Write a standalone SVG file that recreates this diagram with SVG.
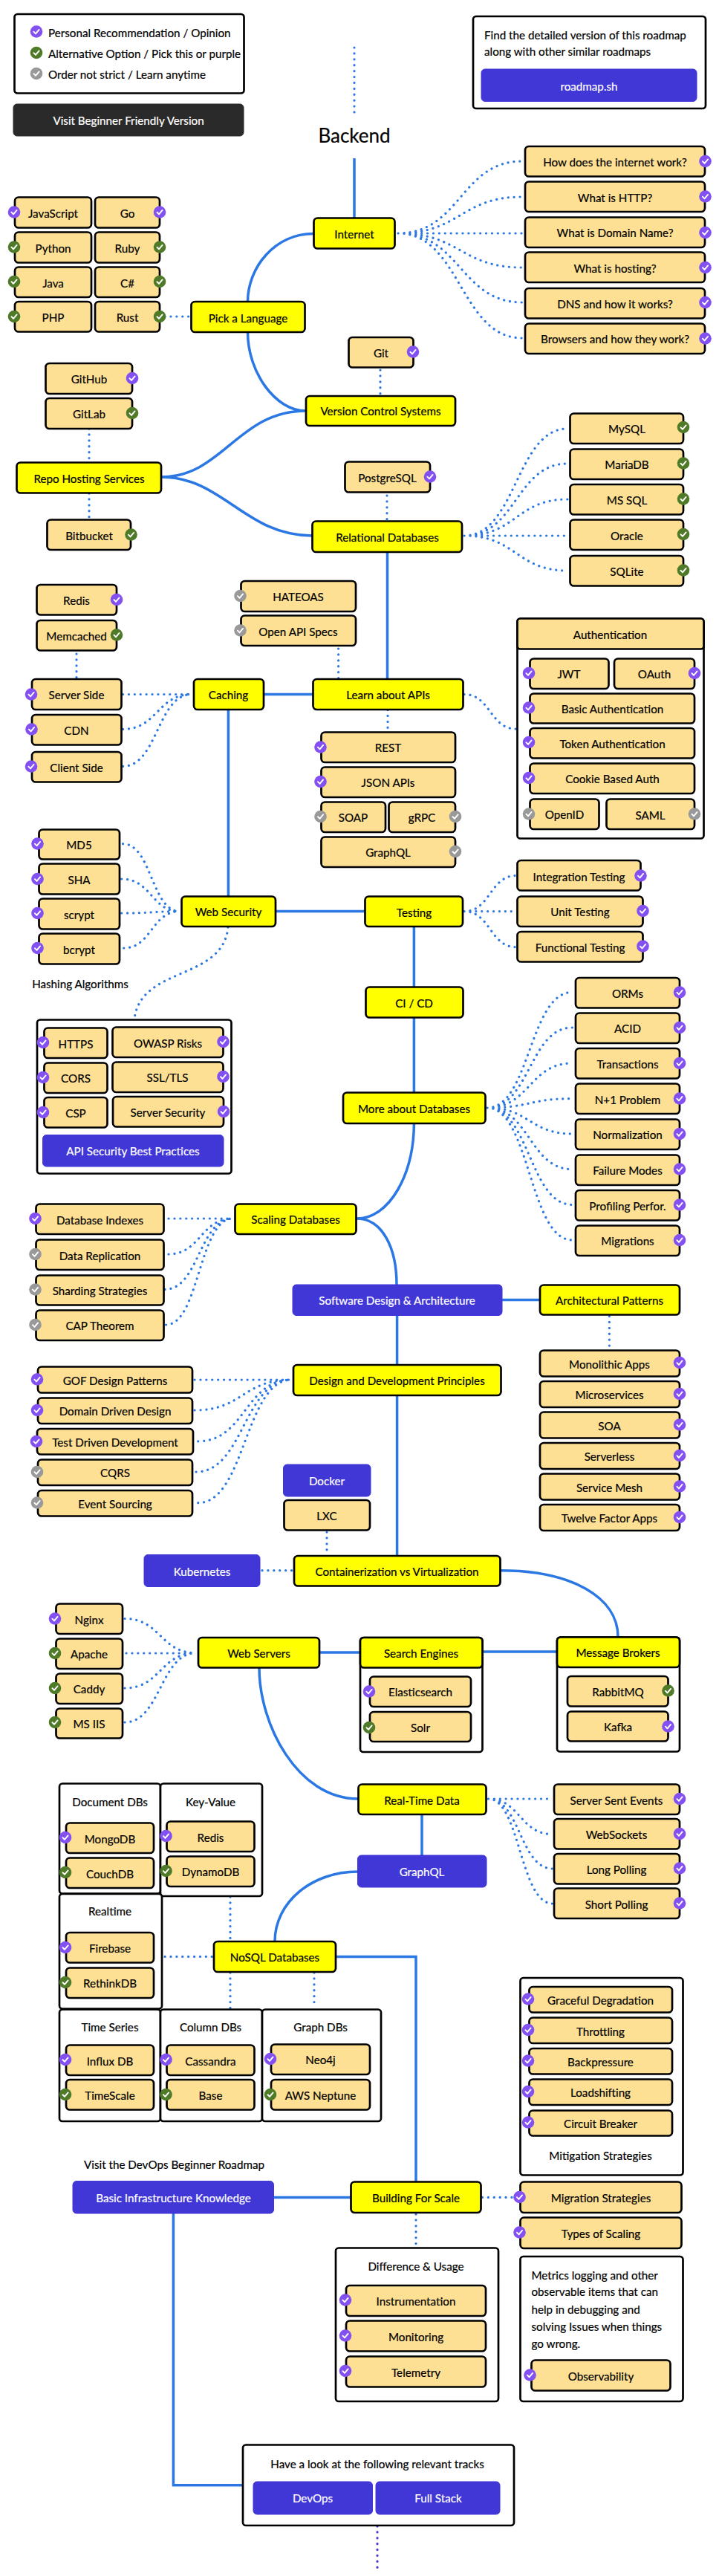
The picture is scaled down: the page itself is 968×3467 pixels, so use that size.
<svg xmlns="http://www.w3.org/2000/svg" width="968" height="3467" viewBox="0 0 968 3467">
<style>
text{font-family:"Lato","Liberation Sans",sans-serif;font-size:15.200px;fill:#000;stroke:#000;stroke-width:.2;text-anchor:middle;dominant-baseline:central}
text.w{fill:#fff;stroke:#fff}
text.l{text-anchor:start}
text.h{font-size:26px}
rect{stroke:#000;stroke-width:2.7}
.n{fill:#fee094}
.y{fill:#ffff00}
.f{fill:#fff}
.b{fill:#4136d6;stroke:#4136d6;stroke-width:1}
.k{fill:#2a2a2a;stroke:#2a2a2a;stroke-width:1}
.s{fill:none;stroke:#2b78e4;stroke-width:3.5}
.d{fill:none;stroke:#2b78e4;stroke-width:3.2;stroke-linecap:round;stroke-dasharray:0.1 7.8}
.e{stroke:#4136d6}
.c{fill:none;stroke:#fff;stroke-width:1.9;stroke-linecap:round;stroke-linejoin:round}
</style>
<defs>
<g id="cp"><circle r="8.3" fill="#8350f2"/><path class="c" d="M-3.6 .2L-1 2.9L3.6-2.6"/></g>
<g id="cg"><circle r="8.3" fill="#4f7a28"/><path class="c" d="M-3.6 .2L-1 2.9L3.6-2.6"/></g>
<g id="cy"><circle r="8.3" fill="#999"/><path class="c" d="M-3.6 .2L-1 2.9L3.6-2.6"/></g>
</defs>
<g id="connectors">
<path class="s" d="M477 213V293M422 314.500C370 314.500 333.500 360 333.500 406M333.500 447C333.500 500 370 553 412 553M217 642C300 642 320 553 412 553M217 642C300 642 330 721 420 721M521.500 743V914M355 934.500H421M307.400 955V1206M371 1226.600H491M557.400 1247V1328M557.400 1370V1470M557.400 1512C557 1580 525 1640 480 1640C515 1640 534 1680 534 1729M676 1749.500H727M534.600 1770V1837M534.600 1878V2094M674 2113.700C770 2113.700 832 2150 832 2203M430 2224H485M649 2223H750M349 2245C349 2320 400 2421 482 2421M568 2442V2497M481.500 2519C420 2519 370 2560 370 2613M452 2633.400H560V2936M368 2957.400H472M233.400 2979V3344.800H326.600"/>
<path class="d" d="M477 64V152M536 314C620 314 620 217 703 217M536 314C620 314 620 265 703 265M536 314H703M536 314C620 314 620 360 703 360M536 314C620 314 620 407 703 407M536 314C620 314 620 455 703 455M222 426H256M512 498V532M120 577V621M120 664V697M521 667V700M625 721C695 721 695 577 764 577M625 721C695 721 695 624 764 624M625 721C695 721 695 672 764 672M625 721H764M625 721C695 721 695 768 764 768M103 880V913M165.500 934.500H258M165.500 981.400C212 981.400 212 934.500 258 934.500M165.500 1031.400C212 1031.400 212 934.500 258 934.500M455.600 873V913M522 955.500V983M625 934.500C660 934.500 660 981 694.500 981M165.500 1135.700C204 1135.700 204 1226.600 242 1226.600M163.600 1183C204 1183 204 1226.600 242 1226.600M163.600 1229C204 1229 204 1226.600 242 1226.600M166.700 1276C204 1276 204 1226.600 242 1226.600M307 1248C300 1320 190 1300 181 1371M625 1226.600C660 1226.600 660 1178.500 694.500 1178.500M625 1226.600H694.500M625 1226.600C660 1226.600 660 1274.700 694.500 1274.700M656 1491C713 1491 713 1335.400 770.400 1335.400M656 1491C713 1491 713 1383 770.400 1383M656 1491C713 1491 713 1431 770.400 1431M656 1491C713 1491 713 1478.600 770.400 1478.600M656 1491C713 1491 713 1526 770.400 1526M656 1491C713 1491 713 1573.700 770.400 1573.700M656 1491C713 1491 713 1621.400 770.400 1621.400M656 1491C713 1491 713 1669 770.400 1669M227 1640H313.600M227 1688C270 1688 270 1640 313.600 1640M222 1735.400C268 1735.400 268 1640 313.600 1640M223.500 1783C268 1783 268 1640 313.600 1640M820.400 1771.500V1812M262 1857H392.600M262 1898C327 1898 327 1857 392.600 1857M266.700 1939.800C330 1939.800 330 1857 392.600 1857M264 1981C328 1981 328 1857 392.600 1857M266.700 2022.700C330 2022.700 330 1857 392.600 1857M440 2062V2092M353 2113.700H394M168 2178.500C216 2178.500 216 2224.700 264 2224.700M170 2225H264M168 2272C216 2272 216 2224.700 264 2224.700M168 2318C216 2318 216 2224.700 264 2224.700M657.400 2421H744M657.400 2421C700 2421 700 2468.700 744 2468.700M657.400 2421C700 2421 700 2515 744 2515M657.400 2421C700 2421 700 2562 744 2562M222 2633.400H287M310 2553V2612M310 2655V2703M423 2655V2701M649.400 2957.400H691M560 2980V3021"/>
<path class="d e" d="M508 3400V3457"/>
</g>
<g id="legend"><rect class="f" x="19.500" y="19" width="309" height="106.500" rx="4"/><use href="#cp" x="49" y="42.500"/><text class="l" x="65" y="44">Personal Recommendation / Opinion</text><use href="#cg" x="49" y="71"/><text class="l" x="65" y="72">Alternative Option / Pick this or purple</text><use href="#cy" x="49" y="99"/><text class="l" x="65" y="100">Order not strict / Learn anytime</text></g>
<g id="beginner"><rect class="k" x="18" y="140" width="310" height="43" rx="5"/><text class="w" x="173" y="162">Visit Beginner Friendly Version</text></g>
<g id="find"><rect class="f" x="637" y="22" width="313" height="124" rx="4"/><text class="l" x="652" y="47">Find the detailed version of this roadmap</text><text class="l" x="652" y="69">along with other similar roadmaps</text><rect class="b" x="648" y="93" width="290" height="43.500" rx="5"/><text class="w" x="793" y="116">roadmap.sh</text></g>
<g id="title"><text class="h" x="477" y="182">Backend</text></g>
<g id="internet"><rect class="y" x="422.500" y="293.500" width="109" height="41" rx="5"/><text x="477" y="315">Internet</text></g>
<g id="inet1"><rect class="n" x="707" y="197" width="242" height="40.500" rx="5"/><text x="828" y="218">How does the internet work?</text><use href="#cp" x="949.500" y="217"/></g>
<g id="inet2"><rect class="n" x="707" y="244.500" width="242" height="40.500" rx="5"/><text x="828" y="265.500">What is HTTP?</text><use href="#cp" x="949.500" y="264.500"/></g>
<g id="inet3"><rect class="n" x="707" y="292.500" width="242" height="40.500" rx="5"/><text x="828" y="313">What is Domain Name?</text><use href="#cp" x="949.500" y="313"/></g>
<g id="inet4"><rect class="n" x="707" y="339.500" width="242" height="40.500" rx="5"/><text x="828" y="361">What is hosting?</text><use href="#cp" x="949.500" y="360"/></g>
<g id="inet5"><rect class="n" x="707" y="388" width="242" height="40.500" rx="5"/><text x="828" y="408.500">DNS and how it works?</text><use href="#cp" x="949.500" y="407"/></g>
<g id="inet6"><rect class="n" x="707" y="435.500" width="242" height="40.500" rx="5"/><text x="828" y="456">Browsers and how they work?</text><use href="#cp" x="949.500" y="455.500"/></g>
<g id="lang-js"><rect class="n" x="20" y="265.500" width="103" height="41" rx="5"/><text x="71.500" y="287">JavaScript</text><use href="#cp" x="19" y="285.500"/></g>
<g id="lang-go"><rect class="n" x="128" y="265.500" width="87" height="41" rx="5"/><text x="171.500" y="287">Go</text><use href="#cp" x="215" y="285.500"/></g>
<g id="lang-py"><rect class="n" x="20" y="312.500" width="103" height="41" rx="5"/><text x="71.500" y="334">Python</text><use href="#cg" x="19" y="332.500"/></g>
<g id="lang-rb"><rect class="n" x="128" y="312.500" width="87" height="41" rx="5"/><text x="171.500" y="334">Ruby</text><use href="#cg" x="215" y="332.500"/></g>
<g id="lang-java"><rect class="n" x="20" y="359.500" width="103" height="40.500" rx="5"/><text x="71.500" y="381">Java</text><use href="#cg" x="19" y="379"/></g>
<g id="lang-cs"><rect class="n" x="128" y="359.500" width="87" height="40.500" rx="5"/><text x="171.500" y="381">C#</text><use href="#cg" x="215" y="379"/></g>
<g id="lang-php"><rect class="n" x="20" y="406" width="103" height="40.500" rx="5"/><text x="71.500" y="427">PHP</text><use href="#cg" x="19" y="426"/></g>
<g id="lang-rust"><rect class="n" x="128" y="406" width="87" height="40.500" rx="5"/><text x="171.500" y="427">Rust</text><use href="#cg" x="215" y="426"/></g>
<g id="pick"><rect class="y" x="257.500" y="406" width="153" height="41" rx="5"/><text x="334" y="427.500">Pick a Language</text></g>
<g id="git"><rect class="n" x="469.500" y="454" width="87" height="40.500" rx="5"/><text x="513" y="474.500">Git</text><use href="#cp" x="556" y="473.500"/></g>
<g id="vcs"><rect class="y" x="412" y="533" width="201" height="40" rx="5"/><text x="512.500" y="553">Version Control Systems</text></g>
<g id="github"><rect class="n" x="61.500" y="489" width="116.500" height="41" rx="5"/><text x="120" y="510">GitHub</text><use href="#cp" x="178" y="509"/></g>
<g id="gitlab"><rect class="n" x="61.500" y="536" width="116.500" height="41" rx="5"/><text x="120" y="557">GitLab</text><use href="#cg" x="178" y="556"/></g>
<g id="repo"><rect class="y" x="22.500" y="622.500" width="194.500" height="41" rx="5"/><text x="120" y="644">Repo Hosting Services</text></g>
<g id="bitbucket"><rect class="n" x="63.500" y="699.500" width="112.500" height="40.500" rx="5"/><text x="120" y="720.500">Bitbucket</text><use href="#cg" x="176.500" y="719.500"/></g>
<g id="postgres"><rect class="n" x="464.500" y="621.500" width="114.500" height="41" rx="5"/><text x="521.500" y="642.500">PostgreSQL</text><use href="#cp" x="579" y="641.500"/></g>
<g id="rdb"><rect class="y" x="420.500" y="701.500" width="201.500" height="41.500" rx="5"/><text x="521.500" y="723">Relational Databases</text></g>
<g id="mysql"><rect class="n" x="767.500" y="556.500" width="152.500" height="40.500" rx="5"/><text x="844" y="577">MySQL</text><use href="#cg" x="920" y="575"/></g>
<g id="mariadb"><rect class="n" x="767.500" y="604.500" width="152.500" height="40.500" rx="5"/><text x="844" y="625">MariaDB</text><use href="#cg" x="920" y="623.500"/></g>
<g id="mssql"><rect class="n" x="767.500" y="652" width="152.500" height="40.500" rx="5"/><text x="844" y="673">MS SQL</text><use href="#cg" x="920" y="671.500"/></g>
<g id="oracle"><rect class="n" x="767.500" y="699.500" width="152.500" height="40.500" rx="5"/><text x="844" y="721">Oracle</text><use href="#cg" x="920" y="719"/></g>
<g id="sqlite"><rect class="n" x="767.500" y="748" width="152.500" height="40.500" rx="5"/><text x="844" y="769">SQLite</text><use href="#cg" x="920" y="767.500"/></g>
<g id="redis"><rect class="n" x="49.500" y="787" width="107.500" height="40.500" rx="5"/><text x="103" y="808">Redis</text><use href="#cp" x="157" y="807"/></g>
<g id="memcached"><rect class="n" x="49.500" y="835" width="107.500" height="40.500" rx="5"/><text x="103" y="856">Memcached</text><use href="#cg" x="157" y="854.500"/></g>
<g id="server-side"><rect class="n" x="43" y="914" width="120.500" height="41" rx="5"/><text x="103" y="935">Server Side</text><use href="#cp" x="42" y="934.500"/></g>
<g id="cdn"><rect class="n" x="43" y="962" width="120.500" height="40.500" rx="5"/><text x="103" y="983">CDN</text><use href="#cp" x="42.500" y="981.500"/></g>
<g id="client-side"><rect class="n" x="43" y="1012" width="120.500" height="40.500" rx="5"/><text x="103" y="1033">Client Side</text><use href="#cp" x="42" y="1031.500"/></g>
<g id="caching"><rect class="y" x="261" y="914" width="94" height="41" rx="5"/><text x="307.500" y="935">Caching</text></g>
<g id="apis"><rect class="y" x="421.500" y="914" width="202" height="41" rx="5"/><text x="522.500" y="935">Learn about APIs</text></g>
<g id="hateoas"><rect class="n" x="324.500" y="782" width="154.500" height="41" rx="5"/><text x="401.500" y="803">HATEOAS</text><use href="#cy" x="323.500" y="802"/></g>
<g id="openapi"><rect class="n" x="324.500" y="828.500" width="154.500" height="40.500" rx="5"/><text x="401.500" y="850">Open API Specs</text><use href="#cy" x="323.500" y="848.500"/></g>
<g id="rest"><rect class="n" x="432.500" y="985.500" width="180.500" height="40.500" rx="5"/><text x="522.500" y="1006">REST</text><use href="#cp" x="431.500" y="1005.500"/></g>
<g id="json"><rect class="n" x="432.500" y="1032.500" width="180.500" height="40.500" rx="5"/><text x="522.500" y="1053">JSON APIs</text><use href="#cp" x="431.500" y="1052"/></g>
<g id="soap"><rect class="n" x="432.500" y="1079.500" width="86.500" height="40.500" rx="5"/><text x="475.500" y="1100">SOAP</text><use href="#cy" x="431.500" y="1099"/></g>
<g id="grpc"><rect class="n" x="523.500" y="1079.500" width="89.500" height="40.500" rx="5"/><text x="568" y="1100">gRPC</text><use href="#cy" x="613" y="1099"/></g>
<g id="graphql-api"><rect class="n" x="432.500" y="1126.500" width="180.500" height="40.500" rx="5"/><text x="522.500" y="1147">GraphQL</text><use href="#cy" x="613" y="1146"/></g>
<g id="auth"><rect class="f" x="696.500" y="832.500" width="251" height="296" rx="4"/><rect class="n" x="696.500" y="832.500" width="251" height="41" rx="4"/><text x="821.500" y="854">Authentication</text>
<rect class="n" x="713.500" y="886.500" width="106" height="40.500" rx="5"/><text x="766" y="907">JWT</text><use href="#cp" x="712" y="906"/>
<rect class="n" x="827" y="886.500" width="108" height="40.500" rx="5"/><text x="881" y="907">OAuth</text><use href="#cp" x="935" y="906"/>
<rect class="n" x="713.500" y="933.500" width="221.500" height="40" rx="5"/><text x="824.500" y="954">Basic Authentication</text><use href="#cp" x="712" y="952.500"/>
<rect class="n" x="713.500" y="980" width="221.500" height="40.500" rx="5"/><text x="824.500" y="1001">Token Authentication</text><use href="#cp" x="712" y="999"/>
<rect class="n" x="713.500" y="1027.500" width="221.500" height="40.500" rx="5"/><text x="824.500" y="1048">Cookie Based Auth</text><use href="#cp" x="712" y="1047"/>
<rect class="n" x="713.500" y="1075.500" width="93" height="40.500" rx="5"/><text x="760" y="1096">OpenID</text><use href="#cy" x="712" y="1095.500"/>
<rect class="n" x="816.500" y="1075.500" width="118.500" height="40.500" rx="5"/><text x="875.500" y="1097">SAML</text><use href="#cy" x="935" y="1095.500"/></g>
<g id="md5"><rect class="n" x="52.500" y="1116.500" width="108.500" height="40" rx="5"/><text x="106.500" y="1137">MD5</text><use href="#cp" x="50.500" y="1135.500"/></g>
<g id="sha"><rect class="n" x="52.500" y="1162.500" width="108.500" height="41" rx="5"/><text x="106.500" y="1184">SHA</text><use href="#cp" x="50.500" y="1183"/></g>
<g id="scrypt"><rect class="n" x="52.500" y="1209.500" width="108.500" height="41" rx="5"/><text x="106.500" y="1231">scrypt</text><use href="#cp" x="50.500" y="1229"/></g>
<g id="bcrypt"><rect class="n" x="52.500" y="1256.500" width="108.500" height="41" rx="5"/><text x="106.500" y="1278">bcrypt</text><use href="#cp" x="50.500" y="1276"/></g>
<g id="hashing"><text x="108" y="1324">Hashing Algorithms</text></g>
<g id="websec"><rect class="y" x="244.500" y="1206.500" width="126.500" height="40.500" rx="5"/><text x="307.500" y="1227">Web Security</text></g>
<g id="testing"><rect class="y" x="491.500" y="1206.500" width="131.500" height="40.500" rx="5"/><text x="557.500" y="1227.500">Testing</text></g>
<g id="t-int"><rect class="n" x="696.500" y="1158" width="166" height="40.500" rx="5"/><text x="779.500" y="1180">Integration Testing</text><use href="#cp" x="862.500" y="1178.500"/></g>
<g id="t-unit"><rect class="n" x="696.500" y="1206.500" width="169" height="40.500" rx="5"/><text x="781" y="1227">Unit Testing</text><use href="#cp" x="865.500" y="1226"/></g>
<g id="t-func"><rect class="n" x="696.500" y="1254" width="169" height="40.500" rx="5"/><text x="781" y="1275">Functional Testing</text><use href="#cp" x="865.500" y="1273.500"/></g>
<g id="cicd"><rect class="y" x="492.500" y="1328.500" width="131" height="41" rx="5"/><text x="557.500" y="1350">CI / CD</text></g>
<g id="moredb"><rect class="y" x="462" y="1470.500" width="191.500" height="41.500" rx="5"/><text x="557.500" y="1492">More about Databases</text></g>
<g id="orms"><rect class="n" x="775" y="1316" width="140" height="40.500" rx="5"/><text x="845" y="1337">ORMs</text><use href="#cp" x="915" y="1335.500"/></g>
<g id="acid"><rect class="n" x="775" y="1363.500" width="140" height="40.500" rx="5"/><text x="845" y="1384">ACID</text><use href="#cp" x="915" y="1383"/></g>
<g id="transactions"><rect class="n" x="775" y="1411" width="140" height="40.500" rx="5"/><text x="845" y="1432">Transactions</text><use href="#cp" x="915" y="1431"/></g>
<g id="nplus"><rect class="n" x="775" y="1458.500" width="140" height="40.500" rx="5"/><text x="845" y="1480">N+1 Problem</text><use href="#cp" x="915" y="1478.500"/></g>
<g id="normal"><rect class="n" x="775" y="1506.500" width="140" height="40.500" rx="5"/><text x="845" y="1527">Normalization</text><use href="#cp" x="915" y="1526"/></g>
<g id="failure"><rect class="n" x="775" y="1554.500" width="140" height="40.500" rx="5"/><text x="845" y="1575">Failure Modes</text><use href="#cp" x="915" y="1573.500"/></g>
<g id="profiling"><rect class="n" x="775" y="1602" width="140" height="40.500" rx="5"/><text x="845" y="1623">Profiling Perfor.</text><use href="#cp" x="915" y="1621.500"/></g>
<g id="migrations"><rect class="n" x="775" y="1649.500" width="140" height="40.500" rx="5"/><text x="845" y="1670">Migrations</text><use href="#cp" x="915" y="1669"/></g>
<g id="apisec"><rect class="f" x="50" y="1372.500" width="261.500" height="207" rx="4"/>
<rect class="n" x="59.500" y="1383.500" width="85" height="40.500" rx="5"/><text x="102" y="1404.500">HTTPS</text><use href="#cp" x="58" y="1403"/>
<rect class="n" x="151.500" y="1382.500" width="149" height="40.500" rx="5"/><text x="226" y="1403.500">OWASP Risks</text><use href="#cp" x="300.500" y="1402"/>
<rect class="n" x="59.500" y="1430.500" width="85" height="40.500" rx="5"/><text x="102" y="1451">CORS</text><use href="#cp" x="58" y="1450"/>
<rect class="n" x="151.500" y="1429.500" width="149" height="40.500" rx="5"/><text x="225.500" y="1450">SSL/TLS</text><use href="#cp" x="300.500" y="1449"/>
<rect class="n" x="59.500" y="1477" width="85" height="40.500" rx="5"/><text x="102" y="1498">CSP</text><use href="#cp" x="58" y="1497"/>
<rect class="n" x="152" y="1476" width="149" height="40.500" rx="5"/><text x="226" y="1497">Server Security</text><use href="#cp" x="301" y="1496"/>
<rect class="b" x="57.500" y="1527.500" width="243.500" height="42.500" rx="5"/><text class="w" x="179" y="1549">API Security Best Practices</text></g>
<g id="scaling"><rect class="y" x="316.500" y="1620.500" width="163" height="40.500" rx="5"/><text x="398" y="1641">Scaling Databases</text></g>
<g id="db-idx"><rect class="n" x="48.500" y="1620.500" width="172" height="40.500" rx="5"/><text x="134.500" y="1641.500">Database Indexes</text><use href="#cp" x="47.500" y="1640"/></g>
<g id="db-rep"><rect class="n" x="48.500" y="1668.500" width="172" height="40.500" rx="5"/><text x="134.500" y="1689.500">Data Replication</text><use href="#cy" x="47.500" y="1688"/></g>
<g id="db-shard"><rect class="n" x="48.500" y="1716.500" width="172" height="40" rx="5"/><text x="134.500" y="1737">Sharding Strategies</text><use href="#cy" x="47.500" y="1735.500"/></g>
<g id="db-cap"><rect class="n" x="48.500" y="1763.500" width="172" height="40.500" rx="5"/><text x="134.500" y="1784">CAP Theorem</text><use href="#cy" x="47.500" y="1783"/></g>
<g id="software"><rect class="b" x="394" y="1729" width="282" height="41.500" rx="5"/><text class="w" x="534.500" y="1750">Software Design &amp; Architecture</text></g>
<g id="archp"><rect class="y" x="727" y="1729.500" width="188" height="40" rx="5"/><text x="820.500" y="1750">Architectural Patterns</text></g>
<g id="a1"><rect class="n" x="727" y="1817.500" width="188" height="35" rx="5"/><text x="820.500" y="1836">Monolithic Apps</text><use href="#cp" x="915" y="1834"/></g>
<g id="a2"><rect class="n" x="727" y="1859" width="188" height="35" rx="5"/><text x="820.500" y="1877">Microservices</text><use href="#cp" x="915" y="1876"/></g>
<g id="a3"><rect class="n" x="727" y="1900.500" width="188" height="35" rx="5"/><text x="820.500" y="1919">SOA</text><use href="#cp" x="915" y="1917.500"/></g>
<g id="a4"><rect class="n" x="727" y="1942" width="188" height="35" rx="5"/><text x="820.500" y="1960">Serverless</text><use href="#cp" x="915" y="1959"/></g>
<g id="a5"><rect class="n" x="727" y="1983.500" width="188" height="35" rx="5"/><text x="820.500" y="2002">Service Mesh</text><use href="#cp" x="915" y="2000.500"/></g>
<g id="a6"><rect class="n" x="727" y="2025" width="188" height="35" rx="5"/><text x="820.500" y="2043">Twelve Factor Apps</text><use href="#cp" x="915" y="2042"/></g>
<g id="principles"><rect class="y" x="395" y="1837" width="279.500" height="41" rx="5"/><text x="534.500" y="1858">Design and Development Principles</text></g>
<g id="gof"><rect class="n" x="51" y="1839.500" width="208" height="35" rx="5"/><text x="155" y="1858">GOF Design Patterns</text><use href="#cp" x="50" y="1856.500"/></g>
<g id="ddd"><rect class="n" x="51" y="1881.500" width="208" height="34.500" rx="5"/><text x="155" y="1899">Domain Driven Design</text><use href="#cp" x="50" y="1898"/></g>
<g id="tdd"><rect class="n" x="50" y="1923" width="210" height="34.500" rx="5"/><text x="155" y="1941">Test Driven Development</text><use href="#cp" x="49" y="1940"/></g>
<g id="cqrs"><rect class="n" x="51" y="1964.500" width="208" height="34.500" rx="5"/><text x="155" y="1982">CQRS</text><use href="#cy" x="50" y="1981"/></g>
<g id="events"><rect class="n" x="51" y="2006" width="208" height="34.500" rx="5"/><text x="155" y="2024">Event Sourcing</text><use href="#cy" x="50" y="2022.500"/></g>
<g id="docker"><rect class="b" x="381.500" y="1971" width="117.500" height="43" rx="5"/><text class="w" x="440" y="1993">Docker</text></g>
<g id="lxc"><rect class="n" x="382.500" y="2019" width="115.500" height="40.500" rx="5"/><text x="440" y="2040">LXC</text></g>
<g id="containers"><rect class="y" x="396" y="2094" width="277.500" height="40.500" rx="5"/><text x="534.500" y="2115">Containerization vs Virtualization</text></g>
<g id="k8s"><rect class="b" x="194" y="2092.500" width="156" height="43" rx="5"/><text class="w" x="272" y="2115">Kubernetes</text></g>
<g id="nginx"><rect class="n" x="75.500" y="2158.500" width="89.500" height="40.500" rx="5"/><text x="120" y="2180">Nginx</text><use href="#cp" x="74" y="2178.500"/></g>
<g id="apache"><rect class="n" x="75.500" y="2205.500" width="89.500" height="40.500" rx="5"/><text x="120" y="2226">Apache</text><use href="#cg" x="74" y="2225"/></g>
<g id="caddy"><rect class="n" x="75.500" y="2252.500" width="89.500" height="40.500" rx="5"/><text x="120" y="2273">Caddy</text><use href="#cg" x="74" y="2272"/></g>
<g id="msiis"><rect class="n" x="75.500" y="2299.500" width="89.500" height="40" rx="5"/><text x="120" y="2320">MS IIS</text><use href="#cg" x="74" y="2318"/></g>
<g id="webservers"><rect class="y" x="267" y="2204" width="163" height="40.500" rx="5"/><text x="348.500" y="2225">Web Servers</text></g>
<g id="search"><rect class="f" x="485" y="2204" width="164.500" height="154" rx="4"/><rect class="y" x="485" y="2204" width="164.500" height="40.500" rx="5"/><text x="567" y="2225">Search Engines</text>
<rect class="n" x="498" y="2256.500" width="136" height="40.500" rx="5"/><text x="566" y="2277">Elasticsearch</text><use href="#cp" x="497" y="2276.500"/>
<rect class="n" x="498" y="2304" width="136" height="40" rx="5"/><text x="566" y="2325">Solr</text><use href="#cg" x="497" y="2325"/></g>
<g id="brokers"><rect class="f" x="750" y="2203.500" width="165" height="154" rx="4"/><rect class="y" x="750" y="2203.500" width="165" height="40.500" rx="5"/><text x="832" y="2224">Message Brokers</text>
<rect class="n" x="764" y="2256" width="135.500" height="40.500" rx="5"/><text x="832" y="2277">RabbitMQ</text><use href="#cg" x="899.500" y="2275.500"/>
<rect class="n" x="764" y="2303.500" width="135.500" height="40" rx="5"/><text x="832" y="2324">Kafka</text><use href="#cp" x="899.500" y="2323.500"/></g>
<g id="realtime-data"><rect class="y" x="482.500" y="2401.500" width="172" height="40.500" rx="5"/><text x="568" y="2423">Real-Time Data</text></g>
<g id="graphql"><rect class="b" x="481.500" y="2497" width="173.500" height="43" rx="5"/><text class="w" x="568" y="2519">GraphQL</text></g>
<g id="nosql"><rect class="y" x="288" y="2613" width="164" height="41" rx="5"/><text x="370" y="2634">NoSQL Databases</text></g>
<g id="sse"><rect class="n" x="746" y="2401.500" width="169" height="40.500" rx="5"/><text x="830" y="2423">Server Sent Events</text><use href="#cp" x="915" y="2421"/></g>
<g id="ws"><rect class="n" x="746" y="2448" width="169" height="40.500" rx="5"/><text x="830" y="2469">WebSockets</text><use href="#cp" x="915" y="2468"/></g>
<g id="longp"><rect class="n" x="746" y="2495" width="169" height="40.500" rx="5"/><text x="830" y="2516">Long Polling</text><use href="#cp" x="915" y="2514.500"/></g>
<g id="shortp"><rect class="n" x="746" y="2541.500" width="169" height="40.500" rx="5"/><text x="830" y="2563">Short Polling</text><use href="#cp" x="915" y="2561.500"/></g>
<g id="docdb"><rect class="f" x="80" y="2400.500" width="136" height="148" rx="4"/><text x="148" y="2425">Document DBs</text>
<rect class="n" x="89" y="2453.500" width="118" height="40.500" rx="5"/><text x="148" y="2475">MongoDB</text><use href="#cp" x="88" y="2473"/>
<rect class="n" x="89" y="2500.500" width="118" height="40.500" rx="5"/><text x="148" y="2522">CouchDB</text><use href="#cg" x="88" y="2520"/></g>
<g id="keyvalue"><rect class="f" x="216" y="2400.500" width="137" height="151.500" rx="4"/><text x="283.500" y="2425">Key-Value</text>
<rect class="n" x="224.500" y="2451.500" width="118" height="40.500" rx="5"/><text x="283.500" y="2473">Redis</text><use href="#cp" x="223.500" y="2471"/>
<rect class="n" x="224.500" y="2498.500" width="118" height="40.500" rx="5"/><text x="283.500" y="2519">DynamoDB</text><use href="#cg" x="223.500" y="2518"/></g>
<g id="realtime"><rect class="f" x="80" y="2549" width="138" height="154.500" rx="4"/><text x="148" y="2572">Realtime</text>
<rect class="n" x="89" y="2601" width="118" height="40.500" rx="5"/><text x="148" y="2622">Firebase</text><use href="#cp" x="88" y="2621"/>
<rect class="n" x="89" y="2648.500" width="118" height="40.500" rx="5"/><text x="148" y="2669">RethinkDB</text><use href="#cg" x="88" y="2668"/></g>
<g id="timeseries"><rect class="f" x="80" y="2704.500" width="136" height="150.500" rx="4"/><text x="148" y="2728">Time Series</text>
<rect class="n" x="89" y="2752.500" width="118" height="40.500" rx="5"/><text x="148" y="2774">Influx DB</text><use href="#cp" x="88" y="2772"/>
<rect class="n" x="89" y="2799" width="118" height="40.500" rx="5"/><text x="148" y="2820">TimeScale</text><use href="#cg" x="88" y="2819"/></g>
<g id="columndb"><rect class="f" x="216" y="2704.500" width="137" height="150.500" rx="4"/><text x="283.500" y="2728">Column DBs</text>
<rect class="n" x="224.500" y="2752.500" width="118" height="40.500" rx="5"/><text x="283.500" y="2774">Cassandra</text><use href="#cp" x="223.500" y="2772"/>
<rect class="n" x="224.500" y="2799" width="118" height="40.500" rx="5"/><text x="283.500" y="2820">Base</text><use href="#cg" x="223.500" y="2819"/></g>
<g id="graphdb"><rect class="f" x="353" y="2704.500" width="160" height="150.500" rx="4"/><text x="431.500" y="2728">Graph DBs</text>
<rect class="n" x="365" y="2751.500" width="133" height="40.500" rx="5"/><text x="431.500" y="2772">Neo4j</text><use href="#cp" x="364" y="2771"/>
<rect class="n" x="365" y="2799" width="133" height="40.500" rx="5"/><text x="431.500" y="2820">AWS Neptune</text><use href="#cg" x="364" y="2819"/></g>
<g id="mitigation"><rect class="f" x="700.500" y="2662" width="219" height="265.500" rx="4"/>
<rect class="n" x="712.500" y="2674" width="192.500" height="34.500" rx="5"/><text x="808.500" y="2692">Graceful Degradation</text><use href="#cp" x="711" y="2690.500"/>
<rect class="n" x="712.500" y="2715.500" width="192.500" height="34.500" rx="5"/><text x="808.500" y="2733.500">Throttling</text><use href="#cp" x="711" y="2732"/>
<rect class="n" x="712.500" y="2757" width="192.500" height="34.500" rx="5"/><text x="808.500" y="2775">Backpressure</text><use href="#cp" x="711" y="2773.500"/>
<rect class="n" x="712.500" y="2798.500" width="192.500" height="34.500" rx="5"/><text x="808.500" y="2816">Loadshifting</text><use href="#cp" x="711" y="2815"/>
<rect class="n" x="712.500" y="2840.500" width="192.500" height="34" rx="5"/><text x="808.500" y="2858">Circuit Breaker</text><use href="#cp" x="711" y="2856.500"/>
<text x="808.500" y="2901">Mitigation Strategies</text></g>
<g id="visit"><text x="234.500" y="2913">Visit the DevOps Beginner Roadmap</text></g>
<g id="infra"><rect class="b" x="98" y="2935.500" width="270.500" height="43.500" rx="5"/><text class="w" x="233.500" y="2958">Basic Infrastructure Knowledge</text></g>
<g id="buildscale"><rect class="y" x="472.500" y="2936.500" width="175" height="41.500" rx="5"/><text x="560" y="2958">Building For Scale</text></g>
<g id="migstrat"><rect class="n" x="700.500" y="2936.500" width="217" height="41.500" rx="5"/><text x="809" y="2958">Migration Strategies</text><use href="#cp" x="699.500" y="2957"/></g>
<g id="typesc"><rect class="n" x="700.500" y="2984.500" width="217" height="41.500" rx="5"/><text x="809" y="3006">Types of Scaling</text><use href="#cp" x="699.500" y="3004.500"/></g>
<g id="difference"><rect class="f" x="452" y="3025.500" width="219" height="206.500" rx="4"/><text x="560" y="3049.500">Difference &amp; Usage</text>
<rect class="n" x="466" y="3076" width="188" height="41" rx="5"/><text x="560" y="3097">Instrumentation</text><use href="#cp" x="465" y="3095.500"/>
<rect class="n" x="466" y="3123.500" width="188" height="41" rx="5"/><text x="560" y="3145">Monitoring</text><use href="#cp" x="465" y="3143.500"/>
<rect class="n" x="466" y="3171.500" width="188" height="41" rx="5"/><text x="560" y="3193">Telemetry</text><use href="#cp" x="465" y="3191"/></g>
<g id="metrics"><rect class="f" x="700.500" y="3037" width="219" height="195" rx="4"/><text class="l" x="715.500" y="3061.500">Metrics logging and other</text><text class="l" x="715.500" y="3084">observable items that can</text><text class="l" x="715.500" y="3108">help in debugging and</text><text class="l" x="715.500" y="3130.500">solving Issues when things</text><text class="l" x="715.500" y="3154">go wrong.</text>
<rect class="n" x="715.500" y="3176.500" width="187" height="41" rx="5"/><text x="809" y="3198">Observability</text><use href="#cp" x="713.500" y="3196.500"/></g>
<g id="tracks"><rect class="f" x="327" y="3290.500" width="365" height="108.500" rx="4"/><text x="508" y="3315.500">Have a look at the following relevant tracks</text>
<rect class="b" x="341" y="3340" width="160.500" height="44" rx="5"/><text class="w" x="421" y="3362">DevOps</text>
<rect class="b" x="506" y="3340" width="167" height="44" rx="5"/><text class="w" x="590" y="3362">Full Stack</text></g>
</svg>
